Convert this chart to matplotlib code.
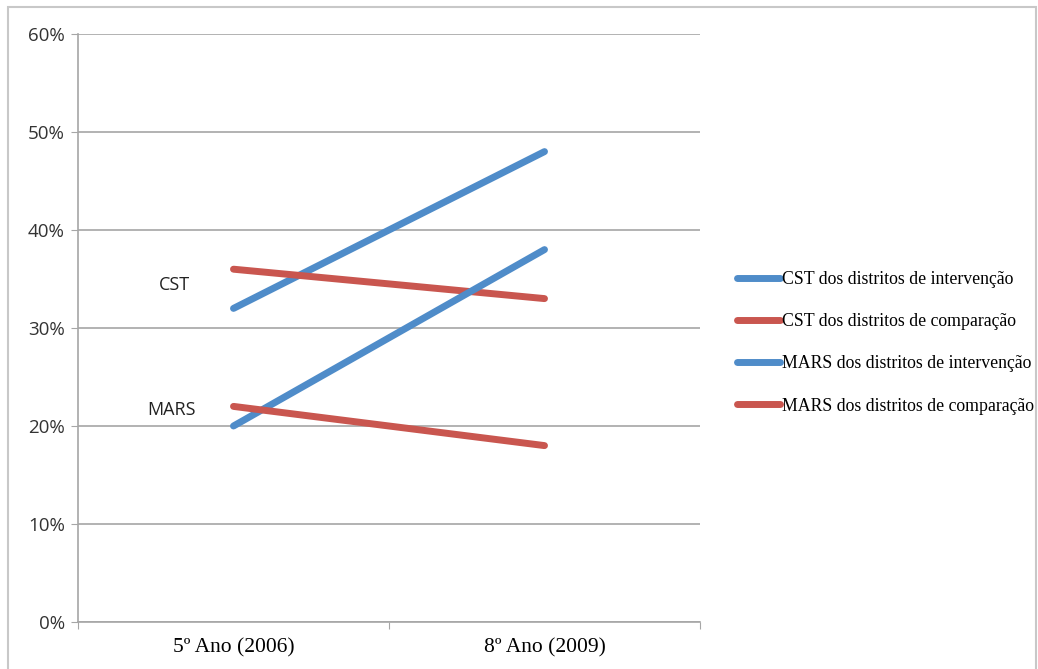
import matplotlib
matplotlib.use("Agg")
import matplotlib.pyplot as plt
from matplotlib.patches import Rectangle
from matplotlib.ticker import PercentFormatter

categories = ["5º Ano (2006)", "8º Ano (2009)"]
cst_intervencao = [32, 48]
cst_comparacao = [36, 33]
mars_intervencao = [20, 38]
mars_comparacao = [22, 18]
series_labels = ["CST dos distritos de intervenção",
                 "CST dos distritos de comparação",
                 "MARS dos distritos de intervenção",
                 "MARS dos distritos de comparação"]
y_ticks = [0, 10, 20, 30, 40, 50, 60]

blue = "#4F8CC9"
red = "#C9564F"
grid_c = "#A6A6A6"

fig = plt.figure(figsize=(10.38, 6.69), dpi=100)
W, H = 1038, 669
# outer frame
fig.patches.append(Rectangle((8 / W, -0.05), (1036 - 8) / W, (H - 7) / H + 0.05,
                             transform=fig.transFigure, fill=False,
                             edgecolor="#C8C8C8", linewidth=1.5))

ax = fig.add_axes([78 / W, 47 / H, (700 - 78) / W, (622 - 34) / H])
x = [0.5, 1.5]
series = [cst_intervencao, cst_comparacao, mars_intervencao, mars_comparacao]
colors = [blue, red, blue, red]
for vals, c, lab in zip(series, colors, series_labels):
    ax.plot(x, vals, color=c, linewidth=5, solid_capstyle="round", label=lab)

ax.set_xlim(0, 2)
ax.set_ylim(0, 60)
ax.set_yticks(y_ticks)
ax.yaxis.set_major_formatter(PercentFormatter(decimals=0))
ax.set_xticks([0, 1, 2])
ax.set_xticklabels([])
ax.set_xticks(x, minor=True)
ax.set_xticklabels(categories, minor=True, fontfamily="Liberation Serif", fontsize=15.5)
ax.tick_params(axis="x", which="minor", length=0, pad=12)
ax.tick_params(axis="x", which="major", length=5, color=grid_c, direction="out")
ax.tick_params(axis="y", length=5, color=grid_c, labelsize=13.5, pad=4.5)
for lbl in ax.get_yticklabels():
    lbl.set_fontfamily("Open Sans")
    lbl.set_color("#333333")
ax.grid(axis="y", color=grid_c, linewidth=1.2)
ax.set_axisbelow(True)
for s in ["top", "right"]:
    ax.spines[s].set_visible(False)
for s in ["left", "bottom"]:
    ax.spines[s].set_color(grid_c)
    ax.spines[s].set_linewidth(1.2)

ax.text(0.31, 34.4, "CST", fontfamily="Open Sans", fontsize=13,
        color="#222222", ha="center", va="center")
ax.text(0.30, 21.6, "MARS", fontfamily="Open Sans", fontsize=13,
        color="#222222", ha="center", va="center")

leg = ax.legend(loc="center left", bbox_to_anchor=(1.039, 0.475), frameon=False,
                prop={"family": "Liberation Serif", "size": 12.8},
                handlelength=2.45, handletextpad=0.1, labelspacing=1.42,
                borderpad=0.2)

fig.savefig("out.png", dpi=100)
